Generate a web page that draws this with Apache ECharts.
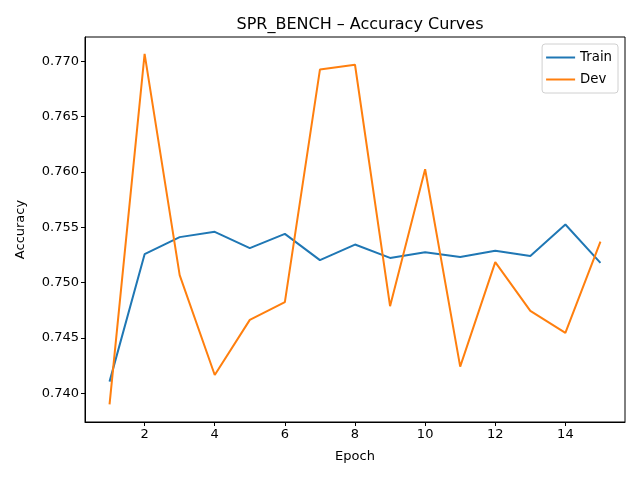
<!DOCTYPE html>
<html>
<head>
<meta charset="utf-8">
<script src="https://cdn.jsdelivr.net/npm/echarts@6/dist/echarts.min.js"></script>
<style>
  html, body { margin: 0; padding: 0; background: #fff; }
  #chart { width: 640px; height: 480px; }
</style>
</head>
<body>
<div id="chart"></div>
<script>
const epochs = [1, 2, 3, 4, 5, 6, 7, 8, 9, 10, 11, 12, 13, 14, 15];
const trainAcc = [0.74105, 0.75257, 0.75411, 0.75459, 0.75311, 0.75440, 0.75203, 0.75344,
                  0.75223, 0.75275, 0.75232, 0.75287, 0.75241, 0.75525, 0.75178];
const devAcc = [0.73900, 0.77068, 0.75067, 0.74165, 0.74663, 0.74823, 0.76926, 0.76969,
                0.74787, 0.76025, 0.74241, 0.75185, 0.74744, 0.74545, 0.75371];
const xTicks = [2, 4, 6, 8, 10, 12, 14];
const yTicks = [0.740, 0.745, 0.750, 0.755, 0.760, 0.765, 0.770];

const font = 'DejaVu Sans';
const chart = echarts.init(document.getElementById('chart'), null, {renderer: 'canvas'});

const pairs = arr => epochs.map((e, i) => [e, arr[i]]);

chart.setOption({
    animation: false,
    textStyle: {fontFamily: font},
    title: {
        text: 'SPR_BENCH \u2013 Accuracy Curves',
        left: 355, top: 12, textAlign: 'center',
        textStyle: {fontFamily: font, fontSize: 16, fontWeight: 'normal', color: '#000'},
    },
    grid: {
        left: 85, right: 15, top: 37, bottom: 58,
        show: true, borderColor: '#000', borderWidth: 1,
    },
    legend: {
        right: 22, top: 44, orient: 'vertical',
        data: ['Train', 'Dev'],
        icon: 'rect', itemWidth: 29, itemHeight: 2, itemGap: 9,
        padding: [7, 6, 7, 4],
        borderColor: '#d0d0d0', borderWidth: 1, borderRadius: 3,
        textStyle: {fontFamily: font, fontSize: 13.3, color: '#000'},
    },
    xAxis: {
        type: 'value', min: 0.3, max: 15.7,
        name: 'Epoch', nameLocation: 'middle', nameGap: 28,
        nameTextStyle: {fontFamily: font, fontSize: 13, color: '#000'},
        axisLine: {show: true, onZero: false, lineStyle: {color: '#000'}},
        axisTick: {show: true, customValues: xTicks, length: 4, lineStyle: {color: '#000'}},
        axisLabel: {customValues: xTicks, fontFamily: font, fontSize: 13, color: '#000', margin: 6},
        splitLine: {show: false},
    },
    yAxis: {
        type: 'value', min: 0.7374, max: 0.7722,
        name: 'Accuracy', nameLocation: 'middle', nameGap: 58, nameRotate: 90,
        nameTextStyle: {fontFamily: font, fontSize: 13, color: '#000'},
        axisLine: {show: true, onZero: false, lineStyle: {color: '#000'}},
        axisTick: {show: true, customValues: yTicks, length: 4, lineStyle: {color: '#000'}},
        axisLabel: {
            customValues: yTicks, fontFamily: font, fontSize: 13, color: '#000', margin: 6,
            formatter: v => v.toFixed(3),
        },
        splitLine: {show: false},
    },
    series: [
        {
            name: 'Train', type: 'line', data: pairs(trainAcc),
            symbol: 'none', color: '#1f77b4', lineStyle: {width: 2},
        },
        {
            name: 'Dev', type: 'line', data: pairs(devAcc),
            symbol: 'none', color: '#ff7f0e', lineStyle: {width: 2},
        },
    ],
});
</script>
</body>
</html>
